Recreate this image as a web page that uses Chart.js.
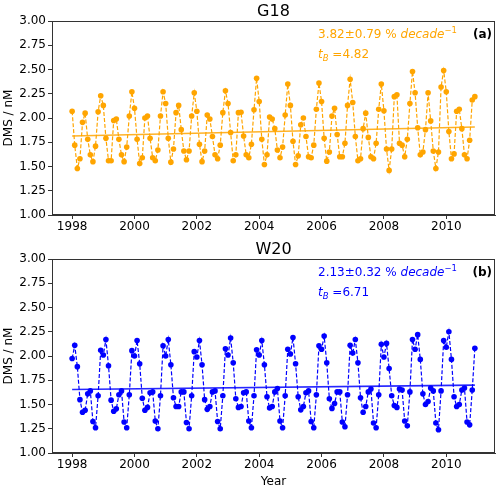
<!DOCTYPE html>
<html>
<head>
<meta charset="utf-8">
<script src="https://cdn.jsdelivr.net/npm/chart.js@4.4.0/dist/chart.umd.min.js"></script>
<style>
  body { margin: 0; background: #fff; }
  #wrap { position: relative; width: 500px; height: 491px; }
  canvas { position: absolute; left: 0; }
  #top { top: 0; }
  #bottom { top: 235px; }
</style>
</head>
<body>
<div id="wrap">
  <canvas id="top" width="500" height="235"></canvas>
  <canvas id="bottom" width="500" height="256"></canvas>
</div>
<script>
// monthly DMS, Jan 1998 .. Dec 2010
const startYear = 1998;
const g18 = [
  2.07, 1.72, 1.48, 1.58, 1.955, 2.05, 1.78, 1.62, 1.55, 1.71, 2.065, 2.23,
  2.13, 1.79, 1.56, 1.56, 1.975, 1.99, 1.78, 1.62, 1.55, 1.70, 2.02, 2.27,
  2.10, 1.78, 1.53, 1.59, 2.00, 2.02, 1.79, 1.59, 1.56, 1.67, 2.02, 2.27,
  2.15, 1.79, 1.545, 1.68, 2.055, 2.13, 1.88, 1.66, 1.57, 1.66, 2.02, 2.26,
  2.07, 1.73, 1.55, 1.66, 2.03, 1.99, 1.81, 1.62, 1.58, 1.72, 2.055, 2.28,
  2.15, 1.85, 1.56, 1.62, 2.055, 2.06, 1.815, 1.62, 1.59, 1.73, 2.085, 2.41,
  2.17, 1.78, 1.52, 1.62, 2.01, 1.99, 1.89, 1.67, 1.59, 1.70, 2.03, 2.35,
  2.13, 1.76, 1.52, 1.61, 1.93, 2.00, 1.81, 1.60, 1.59, 1.72, 2.09, 2.36,
  2.17, 1.79, 1.555, 1.65, 2.02, 2.10, 1.83, 1.60, 1.60, 1.74, 2.13, 2.40,
  2.16, 1.81, 1.56, 1.58, 1.89, 2.05, 1.80, 1.60, 1.58, 1.74, 2.09, 2.35,
  2.075, 1.68, 1.46, 1.68, 2.22, 2.24, 1.74, 1.72, 1.60, 1.78, 2.15, 2.48,
  2.26, 1.90, 1.62, 1.65, 1.88, 2.26, 1.97, 1.66, 1.48, 1.65, 2.32, 2.49,
  2.27, 1.86, 1.58, 1.63, 2.07, 2.09, 1.89, 1.62, 1.58, 1.77, 2.185, 2.22
];
const w20 = [
  1.975, 2.11, 1.89, 1.55, 1.42, 1.44, 1.61, 1.64, 1.325, 1.26, 1.59, 2.06,
  2.01, 2.17, 1.90, 1.545, 1.43, 1.455, 1.60, 1.64, 1.32, 1.26, 1.60, 2.055,
  2.00, 2.16, 1.92, 1.565, 1.44, 1.47, 1.62, 1.63, 1.33, 1.25, 1.59, 2.105,
  2.00, 2.17, 1.91, 1.57, 1.48, 1.48, 1.63, 1.63, 1.315, 1.25, 1.59, 2.045,
  1.99, 2.16, 1.91, 1.55, 1.45, 1.48, 1.63, 1.64, 1.325, 1.25, 1.59, 2.075,
  2.01, 2.185, 1.93, 1.56, 1.47, 1.48, 1.62, 1.63, 1.33, 1.26, 1.59, 2.065,
  2.01, 2.16, 1.91, 1.58, 1.465, 1.48, 1.63, 1.665, 1.33, 1.26, 1.59, 2.07,
  2.02, 2.19, 1.92, 1.58, 1.445, 1.48, 1.62, 1.64, 1.325, 1.26, 1.60, 2.105,
  2.07, 2.205, 1.93, 1.56, 1.46, 1.51, 1.63, 1.63, 1.32, 1.27, 1.60, 2.11,
  2.03, 2.17, 1.93, 1.57, 1.42, 1.48, 1.63, 1.66, 1.31, 1.26, 1.60, 2.12,
  1.99, 2.13, 1.87, 1.59, 1.49, 1.47, 1.66, 1.65, 1.33, 1.28, 1.63, 2.17,
  2.07, 2.22, 1.965, 1.61, 1.50, 1.53, 1.67, 1.64, 1.31, 1.24, 1.64, 2.16,
  2.09, 2.25, 1.965, 1.58, 1.48, 1.50, 1.65, 1.67, 1.32, 1.29, 1.65, 2.08
];
// trend line end points (first and last month)
const trendX = [1998, 2010 + 11 / 12];
const g18Trend = [1.815, 1.907];
const w20Trend = [1.655, 1.700];

const xTicks = [1998, 2000, 2002, 2004, 2006, 2008, 2010];
const xTickLabels = ["1998", "2000", "2002", "2004", "2006", "2008", "2010"];
const yTicks = [1.00, 1.25, 1.50, 1.75, 2.00, 2.25, 2.50, 2.75, 3.00];

const FONT = "'DejaVu Sans', sans-serif";
const AXIS = "#333";

function toPoints(vals) {
  return vals.map((v, i) => ({ x: startYear + i / 12, y: v }));
}

// frame + title + annotation text, matplotlib style
const decor = {
  id: "decor",
  afterDraw(chart, args, o) {
    const ctx = chart.ctx;
    const a = chart.chartArea;
    ctx.save();
    ctx.strokeStyle = AXIS;
    ctx.lineWidth = 1;
    ctx.strokeRect(a.left + 0.5, a.top + 0.5, a.right - a.left - 1, a.bottom - a.top - 1);

    ctx.fillStyle = "#000";
    ctx.font = "16px " + FONT;
    ctx.textAlign = "center";
    ctx.textBaseline = "alphabetic";
    ctx.fillText(o.title, (a.left + a.right) / 2, a.top - 5);

    ctx.textAlign = "left";
    ctx.fillStyle = o.color;
    let x = a.left + 266;
    let y = a.top + 17;
    const parts1 = [
      [o.rate + " % ", "12px " + FONT, 0],
      ["decade", "italic 12px " + FONT, 0],
      ["\u22121", "8.5px " + FONT, -5]
    ];
    parts1.forEach(p => {
      ctx.font = p[1];
      ctx.fillText(p[0], x, y + p[2]);
      x += ctx.measureText(p[0]).width;
    });
    x = a.left + 266;
    y = a.top + 37;
    const parts2 = [
      ["t", "italic 12px " + FONT, 0],
      ["B", "italic 8.5px " + FONT, 3],
      [" =" + o.tb, "12px " + FONT, 0]
    ];
    parts2.forEach(p => {
      ctx.font = p[1];
      ctx.fillText(p[0], x, y + p[2]);
      x += ctx.measureText(p[0]).width;
    });

    ctx.fillStyle = "#000";
    ctx.font = "bold 12px " + FONT;
    ctx.textAlign = "right";
    ctx.fillText(o.tag, a.right - 3, a.top + 17);
    ctx.restore();
  }
};

function makeChart(id, vals, trend, color, trendColor, info, padTop, xHeight, showXTitle) {
  return new Chart(document.getElementById(id), {
    type: "line",
    data: {
      datasets: [
        {
          data: toPoints(vals),
          borderColor: color,
          backgroundColor: color,
          borderWidth: 1.2,
          borderDash: [4, 2],
          pointRadius: 2.8,
          pointBorderWidth: 0,
          pointBackgroundColor: color,
          tension: 0
        },
        {
          data: trendX.map((x, i) => ({ x, y: trend[i] })),
          borderColor: trendColor,
          borderWidth: 1.6,
          pointRadius: 0,
          tension: 0
        }
      ]
    },
    options: {
      responsive: false,
      animation: false,
      events: [],
      layout: { padding: { top: padTop, right: 5, left: 0, bottom: 0 } },
      plugins: {
        legend: { display: false },
        tooltip: { enabled: false },
        decor: info
      },
      scales: {
        x: {
          type: "linear",
          min: 1997.354,
          max: 2011.563,
          afterBuildTicks: s => { s.ticks = xTicks.map(v => ({ value: v })); },
          afterFit: s => { s.height = xHeight; },
          ticks: {
            color: "#000",
            font: { family: FONT, size: 12 },
            padding: 1,
            maxRotation: 0,
            callback: (v) => xTickLabels[xTicks.indexOf(v)]
          },
          grid: { drawOnChartArea: false, drawTicks: true, tickLength: 4, color: AXIS },
          border: { display: true, color: AXIS },
          title: {
            display: showXTitle,
            text: "Year",
            color: "#000",
            font: { family: FONT, size: 12 },
            padding: { top: 0, bottom: 2 }
          }
        },
        y: {
          min: 1,
          max: 3,
          afterBuildTicks: s => { s.ticks = yTicks.map(v => ({ value: v })); },
          afterFit: s => { s.width = 52; },
          ticks: {
            color: "#000",
            font: { family: FONT, size: 12 },
            padding: 2,
            callback: v => Number(v).toFixed(2)
          },
          grid: { drawOnChartArea: false, drawTicks: true, tickLength: 4, color: AXIS },
          border: { display: true, color: AXIS },
          title: {
            display: true,
            text: "DMS / nM",
            color: "#000",
            font: { family: FONT, size: 12 },
            padding: { top: 2, bottom: 0 }
          }
        }
      }
    },
    plugins: [decor]
  });
}

makeChart("top", g18, g18Trend, "#FFA500", "rgba(255,165,0,0.85)",
  { title: "G18", rate: "3.82\u00b10.79", tb: "4.82", tag: "(a)", color: "#FFA500" },
  21, 20, false);
makeChart("bottom", w20, w20Trend, "#0000FF", "rgba(0,0,255,0.85)",
  { title: "W20", rate: "2.13\u00b10.32", tb: "6.71", tag: "(b)", color: "#0000FF" },
  24, 38, true);
</script>
</body>
</html>
